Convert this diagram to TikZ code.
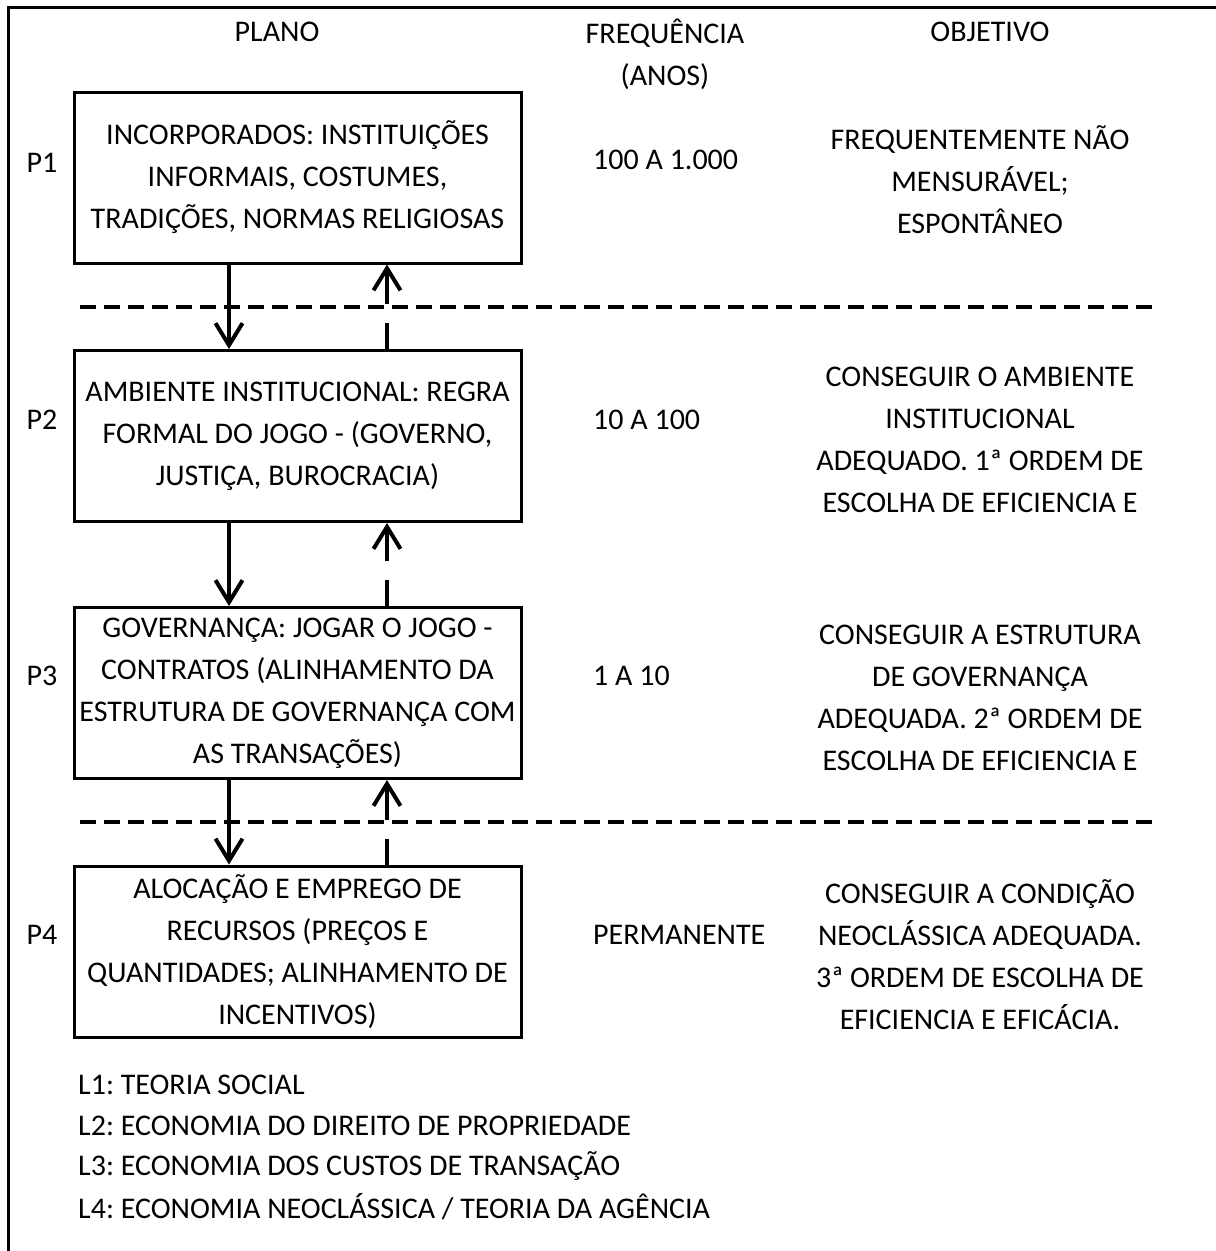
\documentclass[tikz,border=0pt]{standalone}
\usepackage{fontspec}
\setmainfont{Carlito}
\usetikzlibrary{arrows.meta}
\frenchspacing
\begin{document}
\begin{tikzpicture}[x=1pt,y=-1pt,
  every node/.style={font=\fontsize{30}{42}\selectfont, inner sep=0pt},
  box/.style={draw, line width=3pt, minimum width=447pt, minimum height=171pt, align=center},
  txt/.style={align=center},
  leg/.style={anchor=west},
  downarr/.style={line width=4pt, -{Straight Barb[length=22pt,width=27pt]}},
  uparr/.style={line width=4pt, dash pattern=on 26pt off 19pt on 300pt, -{Straight Barb[length=22pt,width=27pt]}},
  sep/.style={line width=4pt, dash pattern=on 16pt off 8pt}]
\useasboundingbox (0,0) rectangle (1216,1251);
\fill[white] (0,0) rectangle (1216,1251);
% outer frame
\draw[line width=3pt] (8,1251) -- (8,7) -- (1216,7);
% headers
\node[txt] (hplano) at (277,32) {PLANO};
\node[txt] (hfreq) at (665,54) {FREQUÊNCIA\\(ANOS)};
\node[txt] (hobj) at (990,32) {OBJETIVO};
% boxes
\node[box] (b1) at (297.5,177.5) {INCORPORADOS: INSTITUIÇÕES\\INFORMAIS, COSTUMES,\\TRADIÇÕES, NORMAS RELIGIOSAS};
\node[box] (b2) at (297.5,436) {AMBIENTE INSTITUCIONAL: REGRA\\FORMAL DO JOGO - (GOVERNO,\\JUSTIÇA, BUROCRACIA)};
\node[box] (b3) at (297.5,693) {GOVERNANÇA: JOGAR O JOGO -\\CONTRATOS (ALINHAMENTO DA\\ESTRUTURA DE GOVERNANÇA COM\\AS TRANSAÇÕES)};
\node[box] (b4) at (297.5,951.5) {ALOCAÇÃO E EMPREGO DE\\RECURSOS (PREÇOS E\\QUANTIDADES; ALINHAMENTO DE\\INCENTIVOS)};
% P labels
\node (p1) at (42,163) {P1};
\node (p2) at (42,420) {P2};
\node (p3) at (42,676) {P3};
\node (p4) at (42,935) {P4};
% frequencies
\node[anchor=west] (f1) at (593,160) {100 A 1.000};
\node[anchor=west] (f2) at (593,420) {10 A 100};
\node[anchor=west] (f3) at (593,676) {1 A 10};
\node[anchor=west] (f4) at (593,935) {PERMANENTE};
% objectives
\node[txt] (o1) at (980,180) {FREQUENTEMENTE NÃO\\MENSURÁVEL;\\ESPONTÂNEO};
\node[txt] (o2) at (980,440) {CONSEGUIR O AMBIENTE\\INSTITUCIONAL\\ADEQUADO. 1ª ORDEM DE\\ESCOLHA DE EFICIENCIA E};
\node[txt] (o3) at (980,698) {CONSEGUIR A ESTRUTURA\\DE GOVERNANÇA\\ADEQUADA. 2ª ORDEM DE\\ESCOLHA DE EFICIENCIA E};
\node[txt] (o4) at (980,955) {CONSEGUIR A CONDIÇÃO\\NEOCLÁSSICA ADEQUADA.\\3ª ORDEM DE ESCOLHA DE\\EFICIENCIA E EFICÁCIA.};
% separators
\draw[sep] (80,307) -- (1152,307);
\draw[sep] (80,822) -- (1152,822);
% arrows
\coordinate (xd) at (229,0);
\coordinate (xu) at (387,0);
\draw[downarr] (b1.south -| xd) -- (b2.north -| xd);
\draw[downarr] (b2.south -| xd) -- (b3.north -| xd);
\draw[downarr] (b3.south -| xd) -- (b4.north -| xd);
\draw[uparr] (b2.north -| xu) -- (b1.south -| xu);
\draw[uparr] (b3.north -| xu) -- (b2.south -| xu);
\draw[uparr] (b4.north -| xu) -- (b3.south -| xu);
% legend
\node[leg] (l1) at (78,1085) {L1: TEORIA SOCIAL};
\node[leg] (l2) at (78,1126) {L2: ECONOMIA DO DIREITO DE PROPRIEDADE};
\node[leg] (l3) at (78,1166) {L3: ECONOMIA DOS CUSTOS DE TRANSAÇÃO};
\node[leg] (l4) at (78,1207) {L4: ECONOMIA NEOCLÁSSICA / TEORIA DA AGÊNCIA};
\end{tikzpicture}
\end{document}
